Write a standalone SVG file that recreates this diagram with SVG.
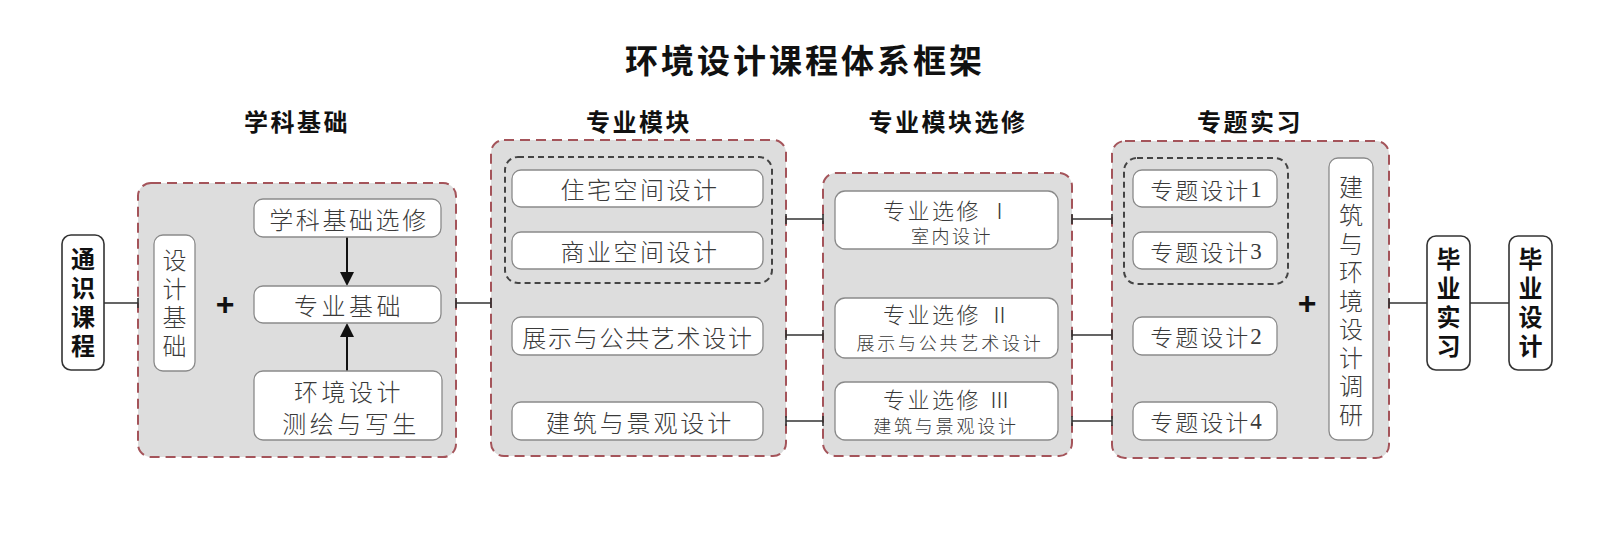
<svg xmlns="http://www.w3.org/2000/svg" width="1619" height="535" viewBox="0 0 1619 535">
<defs>
<style>
.bg{fill:#ffffff}
.panel{fill:#dddddd;stroke:#a4545a;stroke-width:2;stroke-dasharray:10 6}
.group{fill:none;stroke:#444444;stroke-width:2;stroke-dasharray:6 4}
.box{fill:#ffffff;stroke:#8a8a8a;stroke-width:1.3}
.kbox{fill:#ffffff;stroke:#333333;stroke-width:1.6}
.t{font-family:"Noto Sans CJK SC","Noto Sans",sans-serif;font-weight:300;fill:#3a3a3a;text-anchor:middle;dominant-baseline:central}
.b{font-family:"Noto Sans CJK SC","Noto Sans",sans-serif;font-weight:700;fill:#111111;text-anchor:middle;dominant-baseline:central}
.v{writing-mode:vertical-rl}
.plus{font-family:"Liberation Sans",sans-serif;font-weight:700;font-size:32px;fill:#111111;text-anchor:middle;dominant-baseline:central}
.ser{font-family:"Liberation Serif",serif}
.ln{fill:none;stroke:#333333;stroke-width:1.6}
.arr{fill:none;stroke:#111111;stroke-width:2}
</style>
</defs>
<rect class="bg" x="0" y="0" width="1619" height="535"/>

<g id="title">
<text class="b" x="805" y="59" font-size="33" letter-spacing="3">环境设计课程体系框架</text>
</g>
<g id="headers">
<text class="b" x="297" y="120" font-size="24" letter-spacing="2.5">学科基础</text>
<text class="b" x="639" y="120" font-size="24" letter-spacing="2.5">专业模块</text>
<text class="b" x="948" y="120" font-size="24" letter-spacing="2.5">专业模块选修</text>
<text class="b" x="1250" y="120" font-size="24" letter-spacing="2.5">专题实习</text>
</g>

<g id="panels">
<rect id="panel-base" class="panel" x="138" y="183" width="318" height="274" rx="13"/>
<rect id="panel-module" class="panel" x="491" y="140" width="295" height="316" rx="13"/>
<rect id="panel-elective" class="panel" x="823" y="173" width="249" height="283" rx="13"/>
<rect id="panel-topic" class="panel" x="1112" y="141" width="277" height="317" rx="13"/>
<rect id="group-module" class="group" x="505" y="157" width="267" height="126" rx="13"/>
<rect id="group-topic" class="group" x="1124" y="158" width="164" height="126" rx="13"/>
</g>

<g id="connectors">
<path class="ln" d="M104,303 H138 M138,298 V308"/>
<path class="ln" d="M456,303 H491 M456,298 V308 M491,298 V308"/>
<path class="ln" d="M786,219 H823 M786,214 V224 M823,214 V224"/>
<path class="ln" d="M786,335 H823 M786,330 V340 M823,330 V340"/>
<path class="ln" d="M786,421 H823 M786,416 V426 M823,416 V426"/>
<path class="ln" d="M1072,219 H1112 M1072,214 V224 M1112,214 V224"/>
<path class="ln" d="M1072,335 H1112 M1072,330 V340 M1112,330 V340"/>
<path class="ln" d="M1072,421 H1112 M1072,416 V426 M1112,416 V426"/>
<path class="ln" d="M1389,303 H1427 M1389,298 V308"/>
<path class="ln" d="M1470,303 H1509"/>
<line class="arr" x1="347" y1="237" x2="347" y2="273"/>
<path d="M340,272 L354,272 L347,286 Z" fill="#111111"/>
<line class="arr" x1="347" y1="371" x2="347" y2="336"/>
<path d="M340,337 L354,337 L347,323 Z" fill="#111111"/>
</g>

<g id="n-tongshi">
<rect class="kbox" x="62" y="235" width="42" height="135" rx="9"/>
<text class="b v" x="83" y="305" font-size="24" letter-spacing="5">通识课程</text>
</g>
<g id="n-shejijichu">
<rect class="box" x="154" y="235" width="41" height="136" rx="9"/>
<text class="t v" x="174.5" y="305" font-size="24" letter-spacing="4.5">设计基础</text>
</g>
<g id="plus1"><text class="plus" x="225" y="304">+</text></g>
<g id="n-xuanxiu">
<rect class="box" x="254" y="199" width="187" height="38" rx="9"/>
<text class="t" x="349" y="218" font-size="24" letter-spacing="2.6">学科基础选修</text>
</g>
<g id="n-zhuanyejichu">
<rect class="box" x="254" y="286" width="187" height="37" rx="9"/>
<text class="t" x="349" y="304.5" font-size="24" letter-spacing="3.5">专业基础</text>
</g>
<g id="n-cehui">
<rect class="box" x="254" y="371" width="188" height="69" rx="9"/>
<text class="t" x="349" y="390" font-size="24" letter-spacing="3.5">环境设计</text>
<text class="t" x="351" y="422" font-size="24" letter-spacing="3.5">测绘与写生</text>
</g>

<g id="n-zhuzhai">
<rect class="box" x="512" y="170" width="251" height="37" rx="9"/>
<text class="t" x="640" y="188.5" font-size="24" letter-spacing="2.5">住宅空间设计</text>
</g>
<g id="n-shangye">
<rect class="box" x="512" y="232" width="251" height="37" rx="9"/>
<text class="t" x="640" y="250.5" font-size="24" letter-spacing="2.5">商业空间设计</text>
</g>
<g id="n-zhanshi">
<rect class="box" x="512" y="317" width="251" height="38" rx="9"/>
<text class="t" x="638" y="336" font-size="24" letter-spacing="1.7">展示与公共艺术设计</text>
</g>
<g id="n-jianzhu">
<rect class="box" x="512" y="402" width="251" height="38" rx="9"/>
<text class="t" x="640" y="421" font-size="24" letter-spacing="2.9">建筑与景观设计</text>
</g>

<g id="n-xx1">
<rect class="box" x="835" y="191" width="223" height="58" rx="10"/>
<text class="t" x="948" y="209" font-size="22" letter-spacing="2.5">专业选修 Ⅰ</text>
<text class="t" x="952" y="235" font-size="18" letter-spacing="2.5">室内设计</text>
</g>
<g id="n-xx2">
<rect class="box" x="835" y="298" width="223" height="60" rx="10"/>
<text class="t" x="948" y="313" font-size="22" letter-spacing="2.5">专业选修 Ⅱ</text>
<text class="t" x="950" y="342" font-size="18" letter-spacing="2.8">展示与公共艺术设计</text>
</g>
<g id="n-xx3">
<rect class="box" x="835" y="382" width="223" height="58" rx="10"/>
<text class="t" x="948" y="398" font-size="22" letter-spacing="2.5">专业选修 Ⅲ</text>
<text class="t" x="946" y="425" font-size="18" letter-spacing="2.8">建筑与景观设计</text>
</g>

<g id="n-zt1">
<rect class="box" x="1133" y="170" width="144" height="37" rx="9"/>
<text class="t" x="1207" y="189" font-size="23" letter-spacing="2">专题设计<tspan class="ser">1</tspan></text>
</g>
<g id="n-zt3">
<rect class="box" x="1133" y="232" width="144" height="37" rx="9"/>
<text class="t" x="1207" y="251" font-size="23" letter-spacing="2">专题设计<tspan class="ser">3</tspan></text>
</g>
<g id="n-zt2">
<rect class="box" x="1133" y="317" width="144" height="38" rx="9"/>
<text class="t" x="1207" y="336" font-size="23" letter-spacing="2">专题设计<tspan class="ser">2</tspan></text>
</g>
<g id="n-zt4">
<rect class="box" x="1133" y="402" width="144" height="38" rx="9"/>
<text class="t" x="1207" y="421" font-size="23" letter-spacing="2">专题设计<tspan class="ser">4</tspan></text>
</g>
<g id="plus2"><text class="plus" x="1307" y="303">+</text></g>
<g id="n-diaoyan">
<rect class="box" x="1329" y="158" width="44" height="282" rx="9"/>
<text class="t v" x="1351" y="303" font-size="24" letter-spacing="4.5">建筑与环境设计调研</text>
</g>

<g id="n-shixi">
<rect class="kbox" x="1427" y="236" width="43" height="134" rx="9"/>
<text class="b v" x="1448.5" y="305" font-size="24" letter-spacing="5">毕业实习</text>
</g>
<g id="n-sheji">
<rect class="kbox" x="1509" y="236" width="43" height="134" rx="9"/>
<text class="b v" x="1530.5" y="305" font-size="24" letter-spacing="5">毕业设计</text>
</g>
</svg>
